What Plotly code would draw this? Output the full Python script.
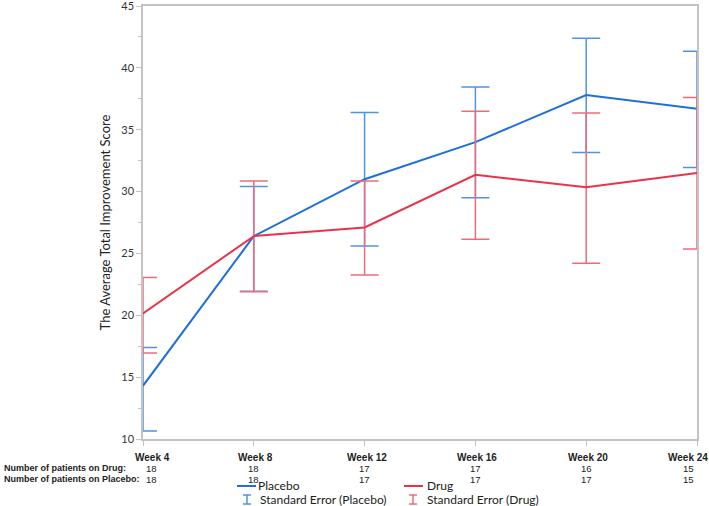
import plotly.graph_objects as go

weeks = ["Week 4", "Week 8", "Week 12", "Week 16", "Week 20", "Week 24"]
placebo_mean = [14.3, 26.4, 31.0, 34.0, 37.8, 36.7]
placebo_se_upper = [17.4, 30.4, 36.4, 38.45, 42.4, 41.35]
placebo_se_lower = [10.65, 21.95, 25.6, 29.5, 33.15, 31.95]
drug_mean = [20.15, 26.4, 27.1, 31.35, 30.35, 31.5]
drug_se_upper = [23.05, 30.85, 30.85, 36.5, 36.35, 37.6]
drug_se_lower = [16.95, 21.9, 23.25, 26.15, 24.2, 25.35]
n_drug = [18, 18, 17, 17, 16, 15]
n_placebo = [18, 18, 17, 17, 17, 15]

W, H = 709, 506
L, R, T, B = 143, 12, 6, 67
PW, PH = W - L - R, H - T - B

def px(x):
    return (x - L) / PW

def py(y):
    return (H - B - y) / PH

BLUE = "#1f6fd9"
BLUE_SE = "#4f93e4"
RED = "#e8334a"
RED_SE = "#ef6b7b"
TXT = "#222222"
AX = "#c3c3c3"

fig = go.Figure()

def add_series(mean, up, lo, line_color, se_color, name):
    fig.add_trace(go.Scatter(
        x=weeks, y=mean, mode="lines", name=name,
        line=dict(color=line_color, width=2),
        error_y=dict(type="data", symmetric=False,
                     array=[u - m for u, m in zip(up, mean)],
                     arrayminus=[m - l for m, l in zip(mean, lo)],
                     color=se_color, thickness=1.5, width=14),
        hoverinfo="skip", showlegend=False, cliponaxis=True,
    ))

add_series(placebo_mean, placebo_se_upper, placebo_se_lower, BLUE, BLUE_SE, "Placebo")
add_series(drug_mean, drug_se_upper, drug_se_lower, RED, RED_SE, "Drug")

fig.update_xaxes(
    type="category", range=[0, len(weeks) - 1], automargin=False,
    showticklabels=False, ticks="outside", ticklen=5, tickcolor=AX,
    showline=True, linecolor=AX, linewidth=1.5, mirror=True,
    showgrid=False, zeroline=False,
)
fig.update_yaxes(
    range=[10, 45], dtick=5, ticks="outside", ticklen=5, tickcolor=AX,
    automargin=False, ticklabeloverflow="allow",
    minor=dict(dtick=2.5, ticks="outside", ticklen=3, tickcolor=AX),
    showline=True, linecolor=AX, linewidth=1.5, mirror=True,
    showgrid=False, zeroline=False,
    tickfont=dict(family="Lato, Noto Sans, sans-serif", size=11, color="#333333"),
    title=dict(text="The Average Total Improvement Score",
               font=dict(family="Lato, Noto Sans, sans-serif", size=13, color=TXT),
               standoff=8),
)

ann = []
label_font = dict(family="Liberation Sans, sans-serif", size=9, color=TXT)
week_font = dict(family="Liberation Sans, sans-serif", size=10, color=TXT)
num_font = dict(family="Liberation Sans, sans-serif", size=9.5, color=TXT)
n = len(weeks)
for i, w in enumerate(weeks):
    shift = 9 if i == 0 else (-9 if i == n - 1 else 2)
    ann.append(dict(x=w, xref="x", y=py(457.5), yref="paper", text="<b>%s</b>" % w,
                    showarrow=False, xanchor="center", yanchor="middle",
                    xshift=shift, font=week_font))
    nshift = 8 if i == 0 else (-9 if i == n - 1 else 0)
    ann.append(dict(x=w, xref="x", y=py(468), yref="paper", text=str(n_drug[i]),
                    showarrow=False, xanchor="center", yanchor="middle",
                    xshift=nshift, font=num_font))
    ann.append(dict(x=w, xref="x", y=py(479), yref="paper", text=str(n_placebo[i]),
                    showarrow=False, xanchor="center", yanchor="middle",
                    xshift=nshift, font=num_font))

ann.append(dict(x=px(2), xref="paper", y=py(468), yref="paper",
                text="<b>Number of patients on Drug:</b>", showarrow=False,
                xanchor="left", yanchor="middle", font=label_font))
ann.append(dict(x=px(2), xref="paper", y=py(479), yref="paper",
                text="<b>Number of patients on Placebo:</b>", showarrow=False,
                xanchor="left", yanchor="middle", font=label_font))

leg_font = dict(family="Lato, Noto Sans, sans-serif", size=12, color=TXT)
shapes = []
legend_items = [
    ("Placebo", BLUE, BLUE_SE, 237, 256, 247, 258),
    ("Drug", RED, RED_SE, 404, 425, 413, 425),
]
for name, lc, sc, lx, tx, ix, stx in legend_items:
    shapes.append(dict(type="line", xref="paper", yref="paper",
                       x0=px(lx), x1=px(lx + 19), y0=py(486), y1=py(486),
                       line=dict(color=lc, width=2)))
    ann.append(dict(x=px(tx), xref="paper", y=py(486), yref="paper", text=name,
                    showarrow=False, xanchor="left", yanchor="middle", font=leg_font))
    shapes.append(dict(type="line", xref="paper", yref="paper",
                       x0=px(ix), x1=px(ix), y0=py(495), y1=py(504),
                       line=dict(color=sc, width=1.5)))
    for yy in (495, 504):
        shapes.append(dict(type="line", xref="paper", yref="paper",
                           x0=px(ix - 4), x1=px(ix + 4), y0=py(yy), y1=py(yy),
                           line=dict(color=sc, width=1.5)))
    ann.append(dict(x=px(stx), xref="paper", y=py(499), yref="paper",
                    text="Standard Error (%s)" % name,
                    showarrow=False, xanchor="left", yanchor="middle", font=leg_font))

fig.update_layout(
    width=W, height=H,
    margin=dict(l=L, r=R, t=T, b=B, pad=0, autoexpand=False),
    paper_bgcolor="white", plot_bgcolor="white",
    showlegend=False,
    annotations=ann, shapes=shapes,
)

fig.write_html("out.html", config={"displayModeBar": False},
               post_script="document.body.style.margin='0';document.body.style.overflow='hidden';")
